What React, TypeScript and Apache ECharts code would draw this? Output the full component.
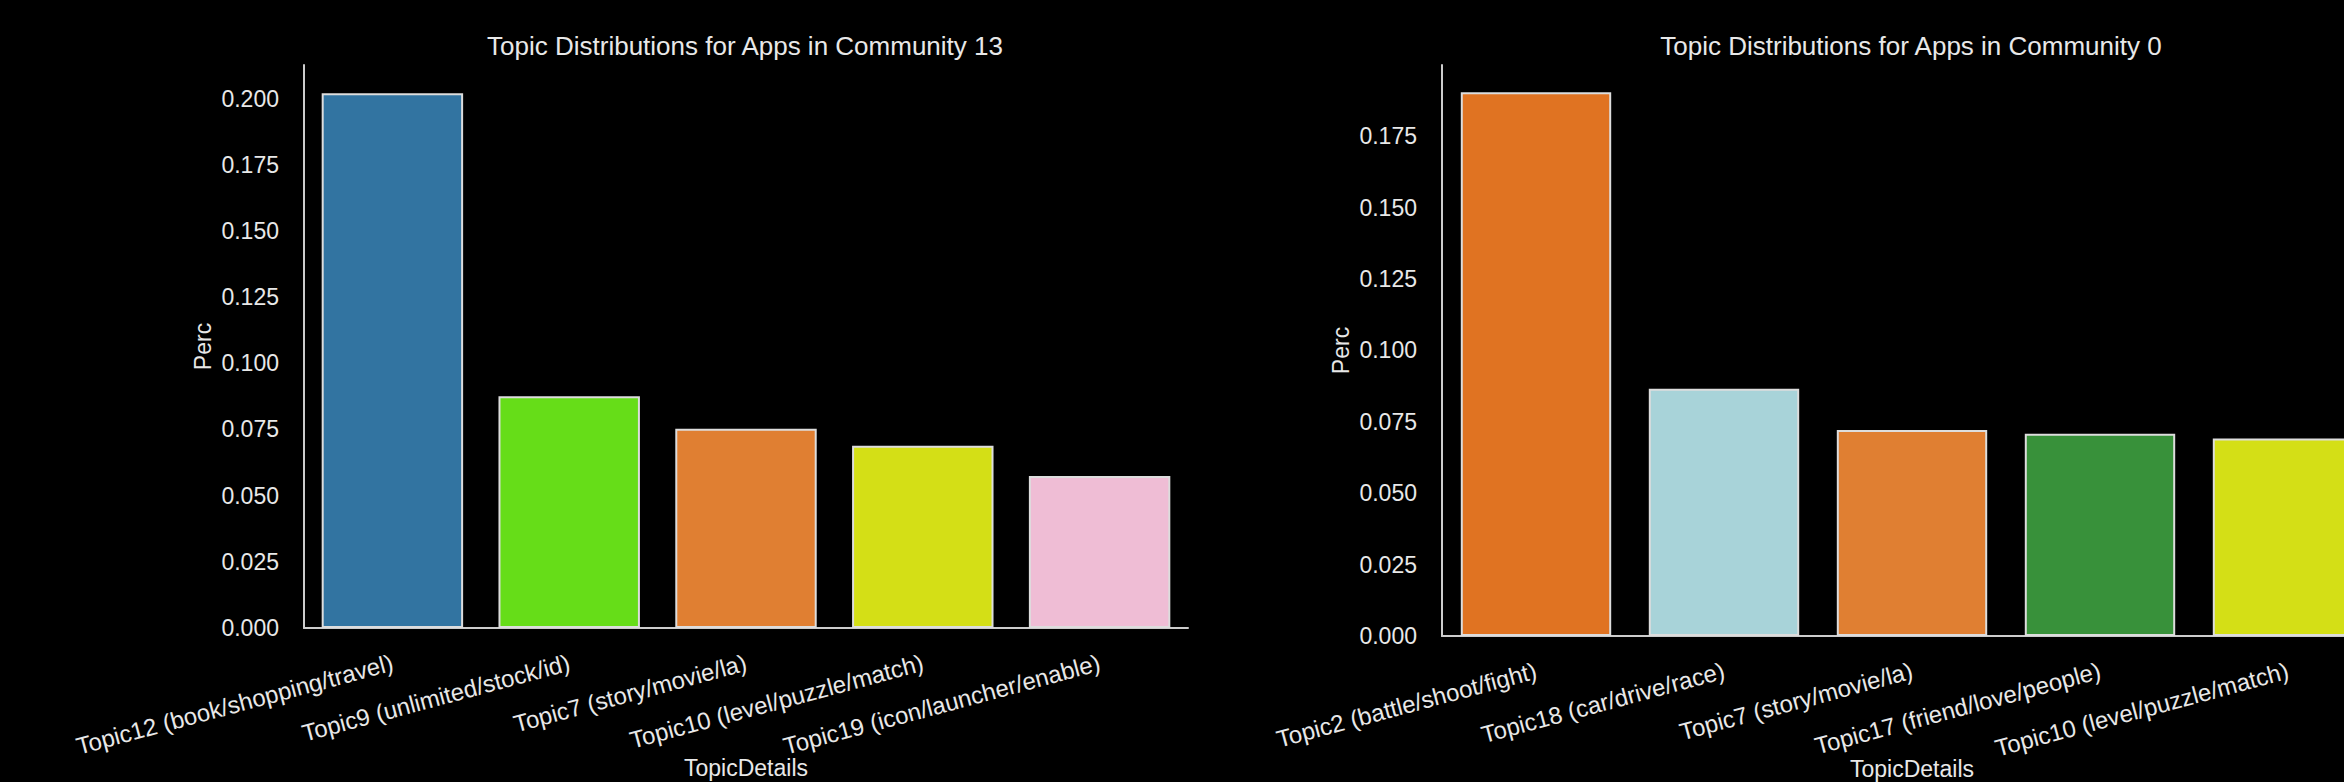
import React, { useEffect, useRef } from "react";
import * as echarts from "echarts";

const leftTitle = "Topic Distributions for Apps in Community 13";
const rightTitle = "Topic Distributions for Apps in Community 0";

const leftCategories = [
  "Topic12 (book/shopping/travel)",
  "Topic9 (unlimited/stock/id)",
  "Topic7 (story/movie/la)",
  "Topic10 (level/puzzle/match)",
  "Topic19 (icon/launcher/enable)",
];
const leftValues = [0.202, 0.0876, 0.0753, 0.0689, 0.0574];
const leftColors = ["#3274a1", "#66dd18", "#e07f32", "#d4df16", "#efbdd5"];

const rightCategories = [
  "Topic2 (battle/shoot/fight)",
  "Topic18 (car/drive/race)",
  "Topic7 (story/movie/la)",
  "Topic17 (friend/love/people)",
  "Topic10 (level/puzzle/match)",
];
const rightValues = [0.1904, 0.0866, 0.0721, 0.0708, 0.0691];
const rightColors = ["#e07322", "#a8d3d9", "#e07f32", "#38913a", "#d4df16"];

const leftMax = 0.2127;
const rightMax = 0.1999;

const FONT = "Liberation Sans, Arial, sans-serif";
const TEXT = "#e8e8e8";
const AXIS = "#cccccc";

function xAxisFor(gridIndex: number, cats: string[], nameGap: number) {
  return {
    type: "category",
    gridIndex,
    data: cats,
    name: "TopicDetails",
    nameLocation: "middle",
    nameGap,
    nameMoveOverlap: false,
    nameTextStyle: { color: TEXT, fontSize: 23, fontFamily: FONT },
    axisLine: { show: true, lineStyle: { color: AXIS, width: 2 } },
    axisTick: { show: false },
    axisLabel: {
      rotate: 15,
      margin: 34,
      color: TEXT,
      fontSize: 24,
      fontFamily: FONT,
      interval: 0,
    },
    splitLine: { show: false },
  };
}

function yAxisFor(gridIndex: number, max: number) {
  return {
    type: "value",
    gridIndex,
    min: 0,
    max,
    interval: 0.025,
    name: "Perc",
    nameLocation: "middle",
    nameGap: 90,
    nameMoveOverlap: false,
    nameTextStyle: { color: TEXT, fontSize: 23, fontFamily: FONT },
    axisLine: { show: true, lineStyle: { color: AXIS, width: 2 } },
    axisTick: { show: false },
    axisLabel: {
      margin: 25,
      color: TEXT,
      fontSize: 23,
      fontFamily: FONT,
      showMaxLabel: false,
      formatter: (v: number) => v.toFixed(3),
    },
    splitLine: { show: false },
  };
}

function barSeries(idx: number, values: number[], colors: string[]) {
  return {
    type: "bar",
    xAxisIndex: idx,
    yAxisIndex: idx,
    barCategoryGap: "20%",
    data: values.map((v, i) => ({
      value: v,
      itemStyle: { color: colors[i] },
    })),
    itemStyle: { borderColor: "#dddddd", borderWidth: 2 },
  };
}

export default function App() {
  const ref = useRef<HTMLDivElement>(null);
  useEffect(() => {
    document.body.style.margin = "0";
    document.body.style.background = "#000";
    document.body.style.overflow = "hidden";
    if (!ref.current) return;
    const chart = echarts.init(ref.current, null, { renderer: "svg" });
    chart.setOption({
      animation: false,
      backgroundColor: "#000000",
      graphic: [
        {
          type: "text",
          x: 745,
          y: 46,
          style: {
            text: leftTitle,
            fill: TEXT,
            fontSize: 26,
            fontFamily: FONT,
            align: "center",
            verticalAlign: "middle",
          },
        },
        {
          type: "text",
          x: 1911,
          y: 46,
          style: {
            text: rightTitle,
            fill: TEXT,
            fontSize: 26,
            fontFamily: FONT,
            align: "center",
            verticalAlign: "middle",
          },
        },
      ],
      grid: [
        { left: 304, top: 65, width: 884, bottom: 154, containLabel: false, outerBoundsMode: "none" },
        { left: 1442, top: 65, width: 940, bottom: 146, containLabel: false, outerBoundsMode: "none" },
      ],
      xAxis: [
        xAxisFor(0, leftCategories, 128),
        xAxisFor(1, rightCategories, 121),
      ],
      yAxis: [yAxisFor(0, leftMax), yAxisFor(1, rightMax)],
      series: [
        barSeries(0, leftValues, leftColors),
        barSeries(1, rightValues, rightColors),
      ],
    });
    return () => chart.dispose();
  }, []);
  return <div ref={ref} style={{ width: 2344, height: 782, background: "#000" }} />;
}
